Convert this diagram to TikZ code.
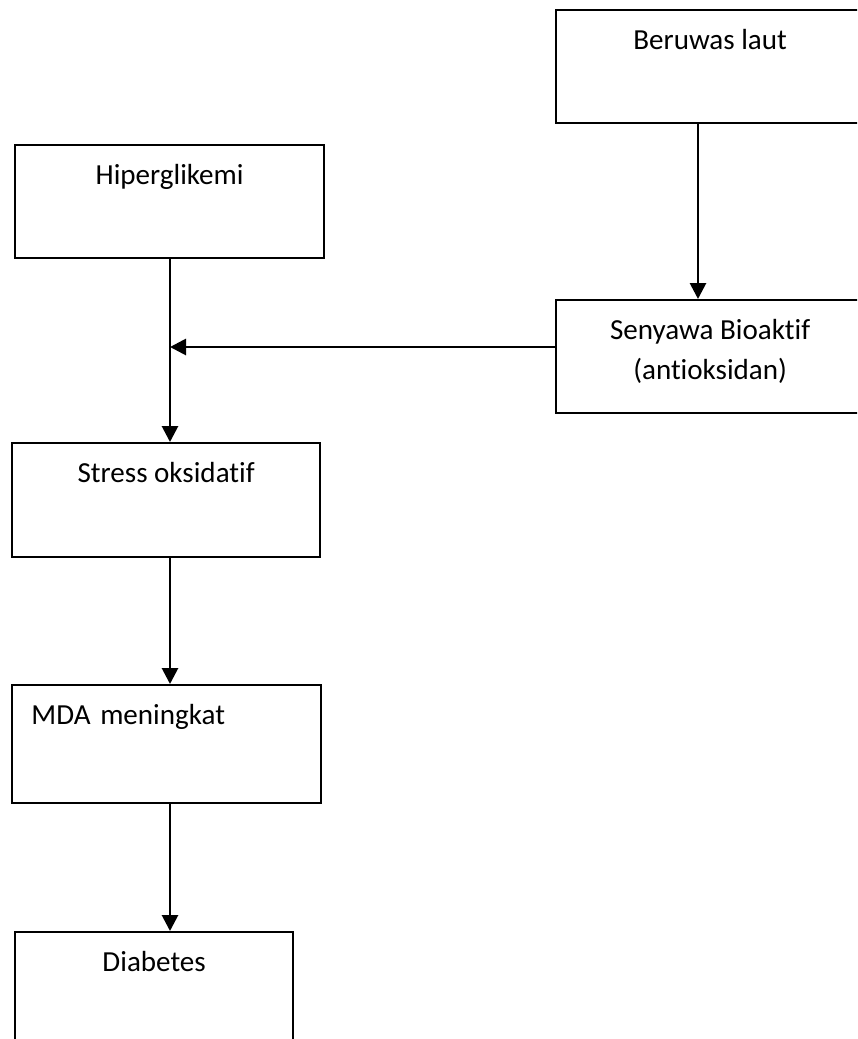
\documentclass[tikz,border=0pt]{standalone}
\usepackage{fontspec}
\setmainfont{Carlito}[Ligatures=NoCommon]
\usetikzlibrary{arrows.meta, positioning}

\begin{document}
\begin{tikzpicture}[x=0.75pt, y=-0.75pt]
\tikzstyle{box} = [rectangle, draw, line width=1.7pt, anchor=north west, minimum width=231pt, inner xsep=0pt, inner ysep=13pt, text height=16.25pt, text depth=42.5pt, align=center, font=\fontsize{21.8}{30.5}\selectfont]
\tikzstyle{flow} = [-{Triangle[width=12pt, length=12pt]}, line width=2.1pt]

\clip (0,0) rectangle (857,1039);

\node (beruwas) [box] at (555,9) {Beruwas laut};
\node (hiper) [box, minimum width=231.75pt] at (14,144) {Hiperglikemi};
\node (senyawa) [box, text height=46.75pt, text depth=12pt] at (555,299) {Senyawa Bioaktif\\(antioksidan)};
\node (stress) [box, text depth=43.25pt] at (11,442) {Stress oksidatif};
\node (mda) [box, text depth=46.25pt, minimum width=0pt, text width=202.75pt, align=left, inner xsep=14.5pt] at (11,684) {MDA meningkat};
\node (diabetes) [box, minimum width=208.5pt] at (14,931) {Diabetes};

\coordinate (lspine) at (170,347);
\coordinate (rspine) at (698,0);

\draw[flow] (beruwas.south -| rspine) -- (senyawa.north -| rspine);
\draw[flow] (hiper.south -| lspine) -- (stress.north -| lspine);
\draw[flow] (senyawa.west |- lspine) -- (lspine);
\draw[flow] (stress.south -| lspine) -- (mda.north -| lspine);
\draw[flow] (mda.south -| lspine) -- (diabetes.north -| lspine);

\end{tikzpicture}
\end{document}
